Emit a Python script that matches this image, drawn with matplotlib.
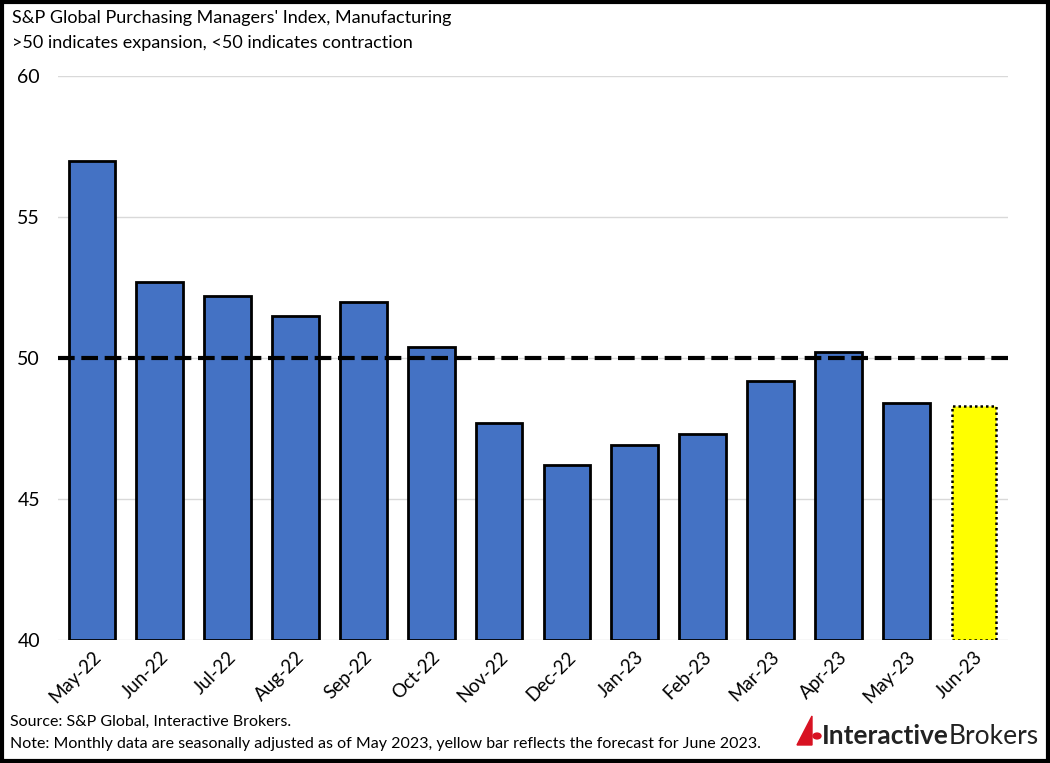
import matplotlib.pyplot as plt
from matplotlib.patches import Rectangle, Polygon, Circle

plt.rcParams['font.family'] = ['Lato', 'DejaVu Sans']

months = ["May-22", "Jun-22", "Jul-22", "Aug-22", "Sep-22", "Oct-22", "Nov-22",
          "Dec-22", "Jan-23", "Feb-23", "Mar-23", "Apr-23", "May-23", "Jun-23"]
pmi = [57.0, 52.7, 52.2, 51.5, 52.0, 50.4, 47.7, 46.2, 46.9, 47.3, 49.2, 50.2, 48.4, 48.3]
yticks = [40, 45, 50, 55, 60]

fig = plt.figure(figsize=(10.5, 7.63), dpi=100)
ax = fig.add_axes([58 / 1050, 1 - 640 / 763, 950 / 1050, 564 / 763])

x = list(range(len(months)))
# actual months
ax.bar(x[:-1], [v - 40 for v in pmi[:-1]], bottom=40, width=0.69,
       color="#4472C4", edgecolor="black", linewidth=2, zorder=3)
# forecast
ax.bar(x[-1:], [pmi[-1] - 40], bottom=40, width=0.66, color="#FFFF00",
       edgecolor="black", linewidth=1.8, linestyle=(0, (1, 1.2)), zorder=3)

ax.axhline(50, color="black", linewidth=3, linestyle=(0, (4, 1.6)), zorder=4)

ax.set_ylim(40, 60)
ax.set_xlim(-0.5, len(months) - 0.5)
ax.set_yticks(yticks)
ax.set_yticklabels([str(t) for t in yticks], fontsize=14)
ax.set_xticks(x)
ax.set_xticklabels(months, rotation=45, ha="right", rotation_mode="anchor", fontsize=13.5)
ax.tick_params(length=0, pad=6)
ax.tick_params(axis="y", pad=13)
ax.grid(axis="y", color="#D9D9D9", linewidth=1, zorder=0)
for s in ax.spines.values():
    s.set_visible(False)

fig.text(12 / 1050, 1 - 18 / 763, "S&P Global Purchasing Managers' Index, Manufacturing",
         fontsize=13, va="center")
fig.text(12 / 1050, 1 - 43 / 763, ">50 indicates expansion, <50 indicates contraction",
         fontsize=13, va="center")
fig.text(10 / 1050, 1 - 722 / 763, "Source: S&P Global, Interactive Brokers.",
         fontsize=11.5, va="center")
fig.text(10 / 1050, 1 - 744 / 763,
         "Note: Monthly data are seasonally adjusted as of May 2023, yellow bar reflects the forecast for June 2023.",
         fontsize=11.5, va="center")

# logo
fig.patches.append(Polygon([(797 / 1050, 1 - 745 / 763), (812 / 1050, 1 - 716 / 763),
                            (812 / 1050, 1 - 745 / 763)], closed=True,
                           color="#D81222", transform=fig.transFigure))
fig.patches.append(Circle((817 / 1050, 1 - 736 / 763), 4 / 1050, color="#D81222",
                          transform=fig.transFigure))
t1 = fig.text(822 / 1050, 1 - 736 / 763, "Interactive", fontsize=19, fontweight="bold",
              color="#222222", va="center")
fig.add_artist(plt.Annotation("Brokers", xy=(1, 0.5), xycoords=t1, va="center", ha="left",
                              fontsize=19, color="#222222"))

fig.patches.append(Rectangle((0.0015, 0.002), 0.997, 0.996, fill=False, edgecolor="black",
                             linewidth=3, transform=fig.transFigure))

fig.savefig("out.png", dpi=100)
